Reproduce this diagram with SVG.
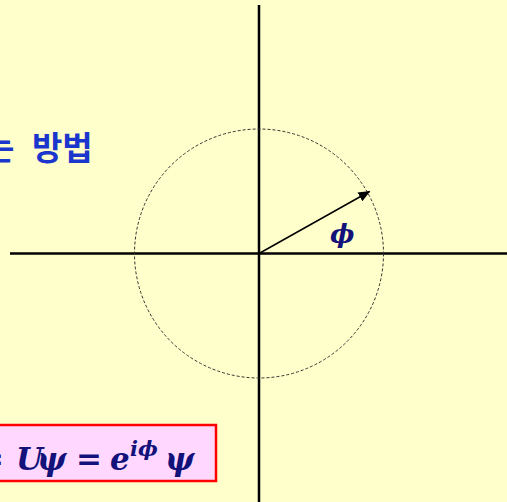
<svg xmlns="http://www.w3.org/2000/svg" width="507" height="502" viewBox="0 0 507 502">
<style>
.axis{stroke:#000;stroke-width:2.5;fill:none}
.math{font-family:"DejaVu Serif",serif;font-weight:bold;font-style:italic;fill:#12127a}
.kor{font-family:"Noto Sans CJK KR","Noto Sans",sans-serif;font-weight:bold;fill:#1a36cc}
</style>
<defs>
<marker id="ah" markerWidth="12" markerHeight="10" refX="11" refY="5" orient="auto" markerUnits="userSpaceOnUse">
<path d="M0,0 L12,5 L0,10 Z" fill="#000"/>
</marker>
</defs>
<rect x="0" y="0" width="507" height="502" fill="#ffffcc"/>
<g id="title"><text class="kor" y="160" font-size="33"><tspan x="-16">는 </tspan><tspan x="32">방법</tspan></text></g>
<g id="axes">
<line class="axis" x1="259" y1="5" x2="259" y2="502"/>
<line class="axis" x1="10" y1="253.5" x2="507" y2="253.5"/>
</g>
<g id="circle"><circle cx="259" cy="253.5" r="124.5" fill="none" stroke="#333" stroke-width="1" stroke-dasharray="3,2"/></g>
<g id="connectors"><line x1="259" y1="253.5" x2="369.5" y2="191.5" stroke="#000" stroke-width="1.5" marker-end="url(#ah)"/></g>
<g id="phi-label"><text class="math" x="330" y="243" font-size="26">ϕ</text></g>
<g id="formula">
<rect x="-5" y="425" width="221" height="56" fill="#ffd7ff" stroke="#ff0000" stroke-width="2.5"/>
<text class="math" y="470" font-size="31"><tspan x="-22">=</tspan><tspan x="16">U</tspan><tspan x="37">ψ</tspan><tspan x="76">=</tspan><tspan x="110">e</tspan><tspan x="130" y="456" font-size="21">iϕ</tspan><tspan x="165" y="470">ψ</tspan></text>
</g>
</svg>
